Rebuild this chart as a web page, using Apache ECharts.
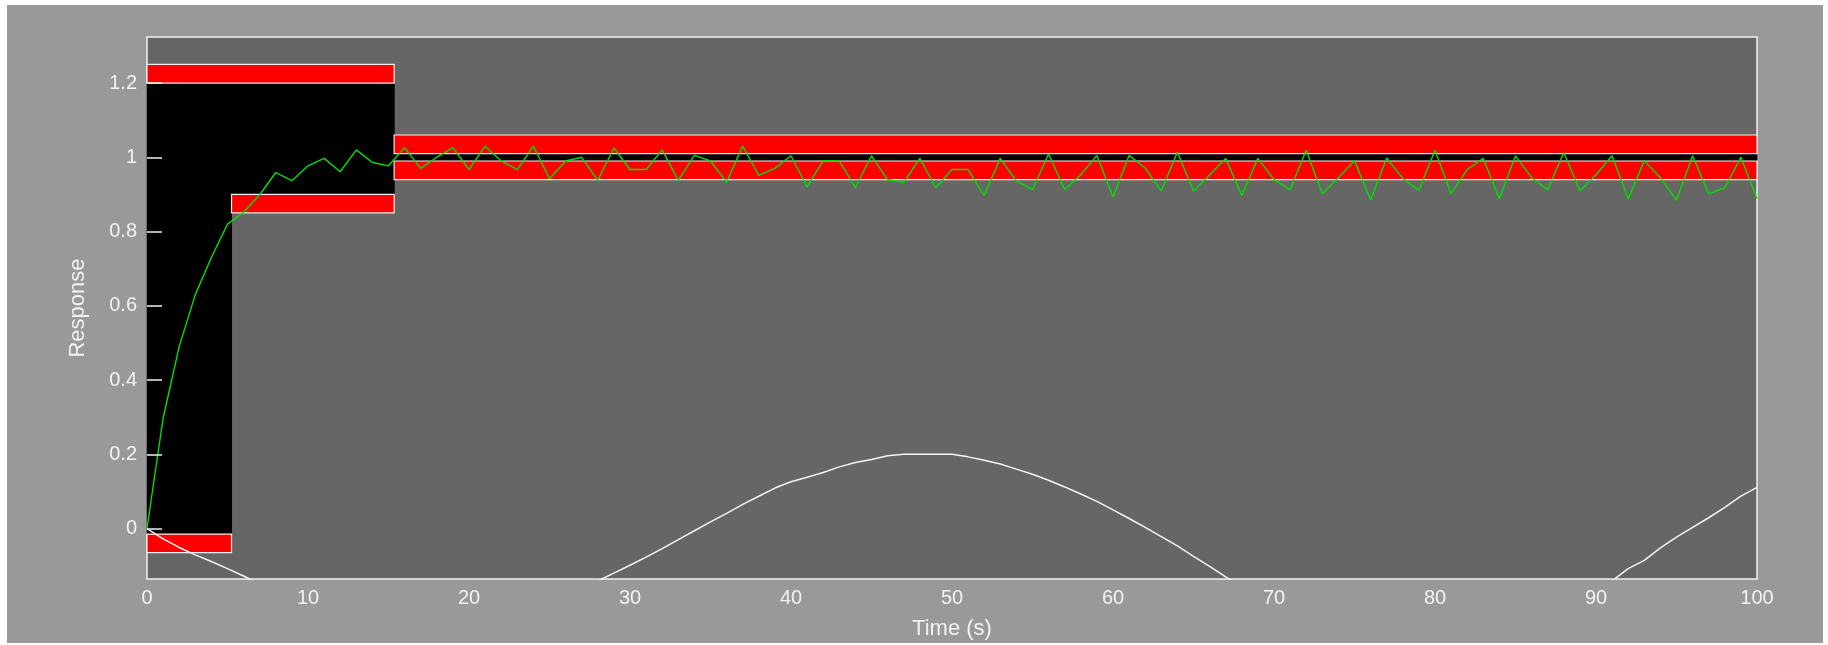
<!DOCTYPE html>
<html>
<head>
<meta charset="utf-8">
<title>Step Response</title>
<script src="https://cdn.jsdelivr.net/npm/echarts@6/dist/echarts.min.js"></script>
<style>
  html, body { margin: 0; padding: 0; background: #ffffff; }
  #panel { position: absolute; left: 7px; top: 5px; width: 1816px; height: 638px; background: #999999; }
  #chart { position: absolute; left: 0; top: 0; width: 1828px; height: 645px; }
</style>
</head>
<body>
<div id="panel"></div>
<div id="chart"></div>
<script>
// Sample instants (s), one per second
const sampleTimes = [
  0, 1, 2, 3, 4, 5, 6, 7, 8, 9, 10, 11, 12, 13, 14, 15, 16, 17, 18, 19, 20,
  21, 22, 23, 24, 25, 26, 27, 28, 29, 30, 31, 32, 33, 34, 35, 36, 37, 38, 39, 40,
  41, 42, 43, 44, 45, 46, 47, 48, 49, 50, 51, 52, 53, 54, 55, 56, 57, 58, 59, 60,
  61, 62, 63, 64, 65, 66, 67, 68, 69, 70, 71, 72, 73, 74, 75, 76, 77, 78, 79, 80,
  81, 82, 83, 84, 85, 86, 87, 88, 89, 90, 91, 92, 93, 94, 95, 96, 97, 98, 99, 100
];

// Measured step response (green trace)
const responseValues = [
  0, 0.297, 0.49, 0.63, 0.73, 0.82, 0.852, 0.899, 0.959, 0.937, 0.977,
  0.997, 0.961, 1.02, 0.986, 0.977, 1.026, 0.970, 1.000, 1.026, 0.967,
  1.030, 0.990, 0.967, 1.030, 0.942, 0.990, 1.000, 0.938, 1.025, 0.967,
  0.967, 1.020, 0.938, 1.005, 0.990, 0.933, 1.030, 0.951, 0.970, 1.004,
  0.920, 0.991, 0.990, 0.918, 1.004, 0.940, 0.932, 0.997, 0.918, 0.967,
  0.967, 0.897, 0.997, 0.936, 0.913, 1.009, 0.913, 0.953, 1.005, 0.893,
  1.005, 0.971, 0.909, 1.014, 0.909, 0.952, 0.997, 0.897, 0.997, 0.940,
  0.913, 1.019, 0.902, 0.945, 0.991, 0.884, 0.998, 0.943, 0.911, 1.019,
  0.902, 0.967, 0.997, 0.888, 1.004, 0.945, 0.913, 1.013, 0.909, 0.953,
  1.004, 0.888, 0.991, 0.945, 0.884, 1.004, 0.902, 0.918, 1.000, 0.888
];

// Disturbance signal (white trace)
const disturbanceValues = [
  0, -0.028, -0.051, -0.071, -0.089, -0.108, -0.128, -0.149, -0.167, -0.184, -0.198,
  -0.211, -0.223, -0.232, -0.240, -0.245, -0.249, -0.250, -0.249, -0.246, -0.241,
  -0.235, -0.226, -0.215, -0.202, -0.188, -0.173, -0.157, -0.141, -0.120, -0.099,
  -0.077, -0.054, -0.030, -0.006, 0.018, 0.041, 0.065, 0.087, 0.109, 0.126,
  0.138, 0.151, 0.166, 0.178, 0.186, 0.196, 0.200, 0.200, 0.200, 0.200,
  0.193, 0.184, 0.174, 0.160, 0.146, 0.130, 0.112, 0.093, 0.073, 0.050,
  0.027, 0.003, -0.022, -0.047, -0.075, -0.102, -0.130, -0.157, -0.179, -0.201,
  -0.221, -0.239, -0.255, -0.268, -0.280, -0.288, -0.295, -0.299, -0.300, -0.299,
  -0.295, -0.288, -0.279, -0.268, -0.254, -0.239, -0.221, -0.201, -0.179, -0.162,
  -0.141, -0.108, -0.086, -0.052, -0.023, 0.003, 0.029, 0.057, 0.087, 0.111
];

// Upper bound segments: start time, end time, limit
const upperStart = [0, 15.35];
const upperEnd = [15.35, 100];
const upperLimit = [1.2, 1.01];

// Lower bound segments: start time, end time, limit
const lowerStart = [0, 5.25, 15.35];
const lowerEnd = [5.25, 15.35, 100];
const lowerLimit = [-0.015, 0.9, 0.99];

// Axis ticks
const xTicks = [0, 10, 20, 30, 40, 50, 60, 70, 80, 90, 100];
const yTicks = [0, 0.2, 0.4, 0.6, 0.8, 1, 1.2];

const BAND = 0.05; // drawn thickness of the bound patches

// Red patches: [x0, x1, yLow, yHigh]
const boundPatches = [];
upperStart.forEach((s, i) => boundPatches.push([s, upperEnd[i], upperLimit[i], upperLimit[i] + BAND]));
lowerStart.forEach((s, i) => boundPatches.push([s, lowerEnd[i], lowerLimit[i] - BAND, lowerLimit[i]]));

// Feasible region between the bounds (black)
const edges = Array.from(new Set([...upperStart, ...upperEnd, ...lowerStart, ...lowerEnd])).sort((a, b) => a - b);
const limitAt = (starts, ends, limits, t) => {
  for (let i = 0; i < starts.length; i++) if (t >= starts[i] && t <= ends[i]) return limits[i];
  return null;
};
const feasiblePatches = [];
for (let i = 0; i < edges.length - 1; i++) {
  const mid = (edges[i] + edges[i + 1]) / 2;
  const hi = limitAt(upperStart, upperEnd, upperLimit, mid);
  const lo = limitAt(lowerStart, lowerEnd, lowerLimit, mid);
  if (hi !== null && lo !== null) feasiblePatches.push([edges[i], edges[i + 1], lo, hi]);
}

function rectRenderer(fill, stroke, lw) {
  return function (params, api) {
    const a = api.coord([api.value(0), api.value(3)]);
    const b = api.coord([api.value(1), api.value(2)]);
    return {
      type: 'rect',
      shape: { x: a[0], y: a[1], width: b[0] - a[0], height: b[1] - a[1] },
      style: { fill: fill, stroke: stroke, lineWidth: lw }
    };
  };
}

const textColor = '#f2f2f2';
const fontFamily = "'Liberation Sans', Arial, sans-serif";

const chart = echarts.init(document.getElementById('chart'), null, { renderer: 'canvas' });
chart.setOption({
  backgroundColor: 'transparent',
  animation: false,
  grid: {
    left: 147, right: 71, top: 37, bottom: 64,
    show: true,
    backgroundColor: '#666666',
    borderColor: '#f0f0f0',
    borderWidth: 1.5
  },
  xAxis: {
    type: 'value',
    min: 0, max: 100, interval: 10,
    name: 'Time (s)',
    nameLocation: 'middle',
    nameGap: 39,
    nameTextStyle: { color: textColor, fontSize: 22, fontFamily: fontFamily },
    axisLine: { show: false },
    axisTick: { show: false },
    splitLine: { show: false },
    axisLabel: { color: textColor, fontSize: 20, fontFamily: fontFamily, margin: 9, customValues: xTicks }
  },
  yAxis: {
    type: 'value',
    min: -0.136, max: 1.324,
    z: 10,
    name: 'Response',
    nameLocation: 'middle',
    nameGap: 58,
    nameTextStyle: { color: textColor, fontSize: 22, fontFamily: fontFamily },
    axisLine: { show: false },
    axisTick: { show: true, inside: true, length: 15, lineStyle: { color: '#f0f0f0', width: 1.5 }, customValues: yTicks },
    splitLine: { show: false },
    axisLabel: { color: textColor, fontSize: 20, fontFamily: fontFamily, margin: 10, customValues: yTicks }
  },
  series: [
    {
      name: 'feasible',
      type: 'custom',
      renderItem: rectRenderer('#000000', '#000000', 1),
      encode: { x: [0, 1], y: [2, 3] },
      data: feasiblePatches,
      silent: true,
      z: 1
    },
    {
      name: 'bounds',
      type: 'custom',
      renderItem: rectRenderer('#ff0000', '#f4eeee', 1.2),
      encode: { x: [0, 1], y: [2, 3] },
      data: boundPatches,
      silent: true,
      z: 2
    },
    {
      name: 'disturbance',
      type: 'line',
      data: sampleTimes.map((t, i) => [t, disturbanceValues[i]]),
      showSymbol: false,
      clip: true,
      lineStyle: { color: '#f4f4f4', width: 1.5 },
      z: 3
    },
    {
      name: 'response',
      type: 'line',
      data: sampleTimes.map((t, i) => [t, responseValues[i]]),
      showSymbol: false,
      clip: true,
      lineStyle: { color: '#00e000', width: 1.4 },
      z: 4
    }
  ]
});
</script>
</body>
</html>
